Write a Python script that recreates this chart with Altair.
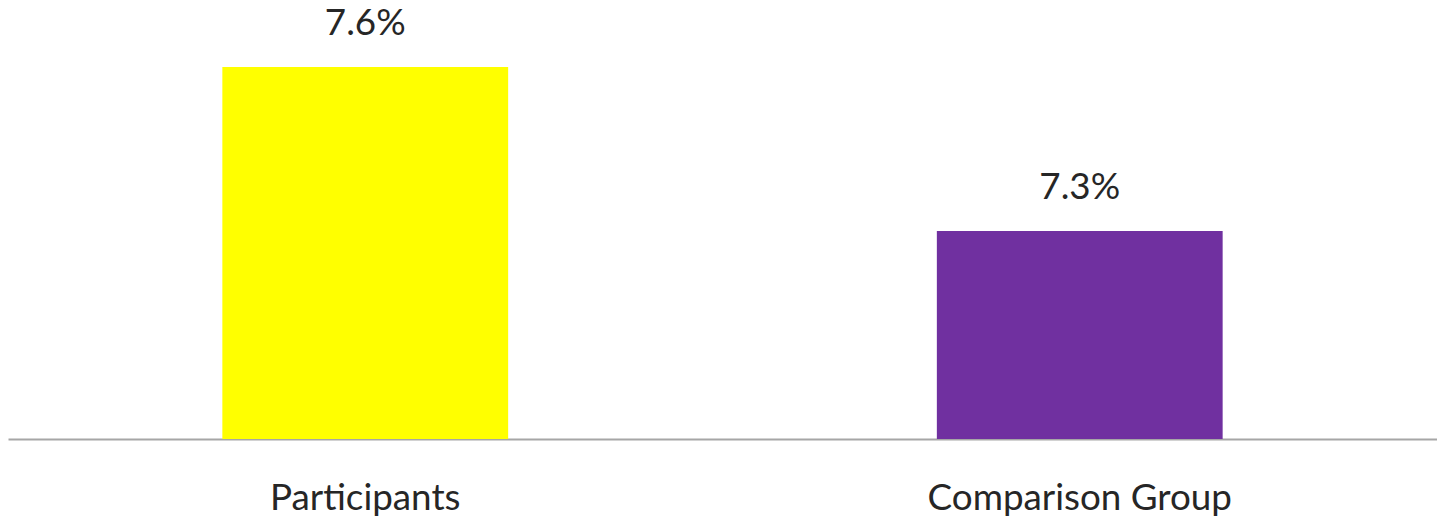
import altair as alt
import pandas as pd

groups = ["Participants", "Comparison Group"]
values = [7.6, 7.3]
labels = ["7.6%", "7.3%"]
colors = ["#FFFF00", "#7030A0"]
y_min = 6.92
y_max = 7.705

df = pd.DataFrame({"group": groups, "value": values, "label": labels, "color": colors})

x = alt.X("group:N", sort=groups, title=None,
          scale=alt.Scale(paddingInner=0.6, paddingOuter=0.3),
          axis=alt.Axis(labelAngle=0, ticks=False, domainColor="#A6A6A6", domainWidth=2,
                        labelFont="Lato", labelFontSize=37, labelColor="#262626",
                        labelPadding=42, labelBaseline="top", labelLimit=0))
y = alt.Y("value:Q", scale=alt.Scale(domain=[y_min, y_max], zero=False, nice=False), axis=None)

bars = alt.Chart(df).mark_bar().encode(
    x=x, y=y, y2=alt.datum(y_min),
    color=alt.Color("color:N", scale=None),
)
text = alt.Chart(df).mark_text(font="Lato", fontSize=37, color="#262626", baseline="alphabetic", dy=-32).encode(
    x=x, y=y, text="label:N"
)

chart = (bars + text).properties(
    width=1437, height=432,
    padding={"top": 0, "left": 0, "right": 0, "bottom": 80},
    autosize=alt.AutoSizeParams(type="none"),
    background="white",
).configure_view(strokeWidth=0, stroke="transparent")

chart.save("out.html", embed_options={"renderer": "svg", "actions": False})
